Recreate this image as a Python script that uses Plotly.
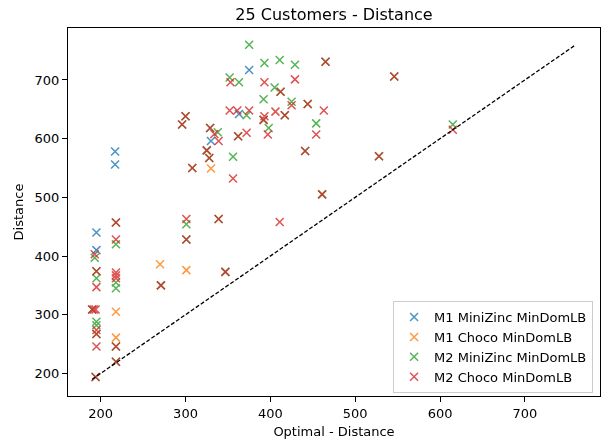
import plotly.graph_objects as go

# Optimal distance (x) vs. distance found (y) for each solver configuration
m1_minizinc_opt = [217, 217, 375, 363, 330, 195, 195]
m1_minizinc_dist = [578, 556, 717, 642, 596, 440, 410]

m1_choco_opt = [330, 270, 301, 218, 218]
m1_choco_dist = [549, 386, 376, 305, 261]

m2_minizinc_opt = [375, 393, 411, 429, 352, 363, 405, 392, 425, 372, 398, 338, 356, 465, 454, 615,
                   301, 218, 193, 195, 218, 218, 195, 195,
                   300, 296, 329, 325, 328, 308, 362, 392, 417, 412, 546, 444, 441, 528, 461,
                   347, 271, 218, 339, 301, 190, 195, 218, 218, 194, 195]
m2_minizinc_dist = [760, 729, 734, 726, 704, 696, 687, 667, 663, 640, 618, 611, 569, 731, 626, 624,
                    454, 420, 397, 362, 355, 345, 288, 282,
                    638, 624, 618, 580, 567, 550, 604, 632, 640, 680, 706, 659, 579, 570, 505,
                    373, 350, 457, 463, 428, 309, 374, 246, 220, 194, 267]

m2_choco_opt = [353, 393, 429, 412, 425, 352, 361, 375, 393, 392, 406, 417, 397, 300, 296, 329,
                334, 339, 362, 372, 325, 328, 308, 356, 465, 546, 444, 463, 454, 441, 528, 461,
                411, 615, 218, 301, 339, 301, 347, 271, 193, 218, 195, 195, 218, 218, 218,
                190, 192, 194, 195, 195, 195, 218, 218, 194]
m2_choco_dist = [696, 696, 701, 680, 657, 648, 648, 648, 638, 632, 646, 640, 607, 638, 624, 618,
                 608, 596, 604, 610, 580, 567, 550, 532, 731, 706, 659, 648, 607, 579, 570, 505,
                 458, 615, 457, 463, 463, 428, 373, 350, 403, 428, 374, 347, 372, 367, 362,
                 309, 309, 309, 274, 267, 246, 246, 220, 194]

series = [
    ("M1 MiniZinc MinDomLB", m1_minizinc_opt, m1_minizinc_dist, "#1f77b4"),
    ("M1 Choco MinDomLB", m1_choco_opt, m1_choco_dist, "#ff7f0e"),
    ("M2 MiniZinc MinDomLB", m2_minizinc_opt, m2_minizinc_dist, "#2ca02c"),
    ("M2 Choco MinDomLB", m2_choco_opt, m2_choco_dist, "#d62728"),
]

fig = go.Figure()
for name, xs, ys, color in series:
    fig.add_trace(go.Scatter(
        x=xs, y=ys, mode="markers", name=name,
        marker=dict(symbol="x-thin", size=8, color=color,
                    line=dict(width=1.5, color=color)),
        opacity=0.8,
    ))

# y = x reference line across the full data extent
all_vals = [v for _, xs, ys, _ in series for v in xs + ys]
lo, hi = min(all_vals), max(all_vals)
fig.add_trace(go.Scatter(
    x=[lo, hi], y=[lo, hi], mode="lines", showlegend=False, hoverinfo="skip",
    line=dict(color="black", width=1.3, dash="4px,2px"),
))

pad = 0.05 * (hi - lo)
rng = [lo - pad, hi + pad]
ticks = [200, 300, 400, 500, 600, 700]

axis_common = dict(
    range=rng, tickvals=ticks, showgrid=False, zeroline=False,
    showline=True, linecolor="black", linewidth=1, mirror=True,
    ticks="outside", ticklen=5, tickcolor="black", tickwidth=1,
    tickfont=dict(family="DejaVu Sans", size=13, color="black"),
)

fig.update_layout(
    width=608, height=444,
    margin=dict(l=68, r=7, t=28, b=44),
    paper_bgcolor="white", plot_bgcolor="white",
    font=dict(family="DejaVu Sans", color="black"),
    title=dict(text="25 Customers - Distance", x=0.5, xref="paper",
               y=1 - 14 / 444, yanchor="middle", font=dict(size=16, color="black")),
    xaxis=dict(axis_common, title=dict(text="Optimal - Distance", font=dict(size=13), standoff=7)),
    yaxis=dict(axis_common, title=dict(text="Distance", font=dict(size=13), standoff=8)),
    legend=dict(x=0.987, y=0.008, xanchor="right", yanchor="bottom",
                bgcolor="rgba(255,255,255,0.8)", bordercolor="#cccccc", borderwidth=1,
                font=dict(family="DejaVu Sans", size=13, color="black"),
                tracegroupgap=2),
    showlegend=True,
)

fig.write_html("out.html")
